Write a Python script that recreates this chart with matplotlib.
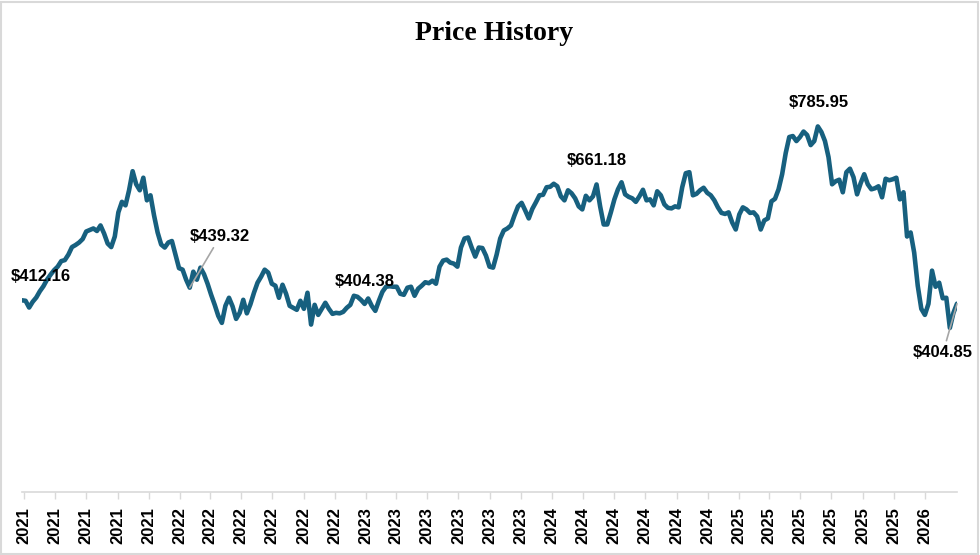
import pandas as pd
import matplotlib
matplotlib.use('Agg')
from matplotlib import pyplot as plt
import matplotlib.dates as mdates
from matplotlib.patches import Rectangle

# weekly closing prices
start_date = '2021-02-25'
prices = [
    412.16, 411.1, 396.6, 409.0, 418.2, 431.6, 442.4, 456.4, 467.2, 477.0,
    484.5, 496.4, 498.6, 510.4, 526.6, 531.0, 536.4, 543.9, 560.1, 563.4,
    566.6, 561.2, 573.1, 555.8, 534.2, 526.6, 549.3, 601.2, 623.8, 616.3,
    648.7, 689.7, 661.6, 648.7, 675.7, 627.1, 637.9, 594.7, 558.0, 532.0,
    525.6, 536.4, 539.6, 510.4, 481.3, 478.0, 456.4, 439.32, 473.7, 456.4,
    482.4, 468.3, 447.8, 424.0, 402.4, 378.7, 363.6, 400.3, 417.6, 399.2,
    372.2, 385.2, 413.2, 384.1, 403.5, 428.4, 450.0, 462.9, 478.0, 471.6,
    447.8, 443.5, 417.6, 445.6, 426.2, 400.3, 396.0, 391.7, 411.1, 393.8,
    428.4, 360.0, 402.4, 380.8, 393.8, 406.8, 393.8, 383.0, 385.2, 384.1,
    387.3, 396.0, 402.4, 421.9, 419.7, 413.0, 404.38, 416.0, 400.3, 389.5,
    411.1, 430.5, 441.3, 442.4, 441.3, 441.3, 426.2, 424.0, 439.2, 441.3,
    421.9, 437.0, 443.5, 451.0, 448.9, 454.3, 447.8, 484.5, 497.5, 499.6,
    493.2, 491.0, 484.5, 525.6, 545.0, 547.2, 525.6, 506.1, 525.6, 524.5,
    508.3, 484.5, 482.4, 510.4, 545.0, 562.3, 566.6, 573.1, 594.7, 614.1,
    621.7, 605.5, 588.2, 608.7, 622.8, 637.9, 639.0, 655.2, 656.2, 662.7,
    657.3, 635.7, 627.1, 648.7, 642.2, 631.4, 614.1, 607.6, 636.8, 627.1,
    635.7, 661.18, 614.1, 575.2, 575.2, 601.2, 629.2, 650.8, 665.9, 640.0,
    634.6, 631.4, 623.8, 635.7, 649.8, 627.1, 629.2, 616.3, 646.5, 637.9,
    618.4, 610.9, 609.8, 614.1, 612.0, 655.2, 685.4, 687.6, 637.9, 641.1,
    648.7, 654.1, 643.3, 637.9, 627.1, 612.0, 600.1, 597.9, 601.2, 579.6,
    564.4, 596.8, 612.0, 607.6, 600.1, 601.2, 592.5, 564.4, 583.9, 588.2,
    624.9, 630.3, 650.8, 683.2, 728.6, 763.2, 765.3, 754.5, 763.2, 775.0,
    767.5, 745.9, 754.5, 785.95, 774.0, 754.5, 719.9, 661.6, 668.1, 671.4,
    644.4, 687.6, 695.1, 676.8, 640.0, 663.8, 683.2, 661.6, 650.8, 653.0,
    657.3, 633.6, 673.5, 670.3, 672.4, 675.7, 629.2, 644.4, 549.3, 558.0,
    514.8, 443.5, 393.8, 380.8, 404.6, 475.9, 441.3, 450.0, 416.5, 417.6,
    352.8, 385.2, 404.85,
]

# which weeks carry a data label
label_idx = [0, 47, 96, 161, 223, 262]

# axis ticks: every two months, labelled with the year
tick_start, tick_end = '2021-03-01', '2026-01-01'

dates = pd.date_range(start_date, periods=len(prices), freq='7D')

line_color = '#17607f'
grey = '#d9d9d9'

fig = plt.figure(figsize=(9.8, 5.55), dpi=100)
fig.patches.append(Rectangle((0.001, 0.002), 0.997, 0.995, transform=fig.transFigure,
                             fill=False, edgecolor=grey, linewidth=1.5))

ax = fig.add_axes([22 / 980, 1 - 492 / 555, 935 / 980, 418.6 / 555])
ax.plot(dates, prices, color=line_color, linewidth=3.3, solid_joinstyle='round',
        solid_capstyle='round')

ax.set_xlim(dates[0], dates[-1])
ax.set_ylim(0, 900)

ax.set_xticks(pd.date_range(tick_start, tick_end, freq='2MS'))
ax.xaxis.set_major_formatter(mdates.DateFormatter('%Y'))
ax.tick_params(axis='x', colors=grey, length=5, width=1, pad=6)
for lbl in ax.get_xticklabels():
    lbl.set_rotation(90)
    lbl.set_color('black')
    lbl.set_fontsize(12)
    lbl.set_fontweight('bold')
    lbl.set_family('Liberation Sans')

ax.yaxis.set_visible(False)
for s in ['left', 'right', 'top']:
    ax.spines[s].set_visible(False)
ax.spines['bottom'].set_color(grey)
ax.spines['bottom'].set_linewidth(1.2)
ax.patch.set_alpha(0)

# label offsets in points
offsets = [(13.5, 17), (22, 37), (0, 16), (0.5, 17), (0.5, 17.5), (-10, -35)]
leaders = [False, True, False, False, False, True]
for i, off, lead in zip(label_idx, offsets, leaders):
    kw = dict(textcoords='offset points', xytext=off, ha='center', va='center',
              fontsize=12, fontweight='bold', family='Liberation Sans')
    if lead:
        kw['arrowprops'] = dict(arrowstyle='-', color='#a6a6a6', lw=1.2,
                                shrinkA=1, shrinkB=0)
    ax.annotate(f'${prices[i]:.2f}', xy=(dates[i], prices[i]), **kw)

fig.text(0.504, 1 - 33 / 555, 'Price History', ha='center', va='center',
         family='Liberation Serif', fontweight='bold', fontsize=20)

plt.savefig('out.png', dpi=100)
